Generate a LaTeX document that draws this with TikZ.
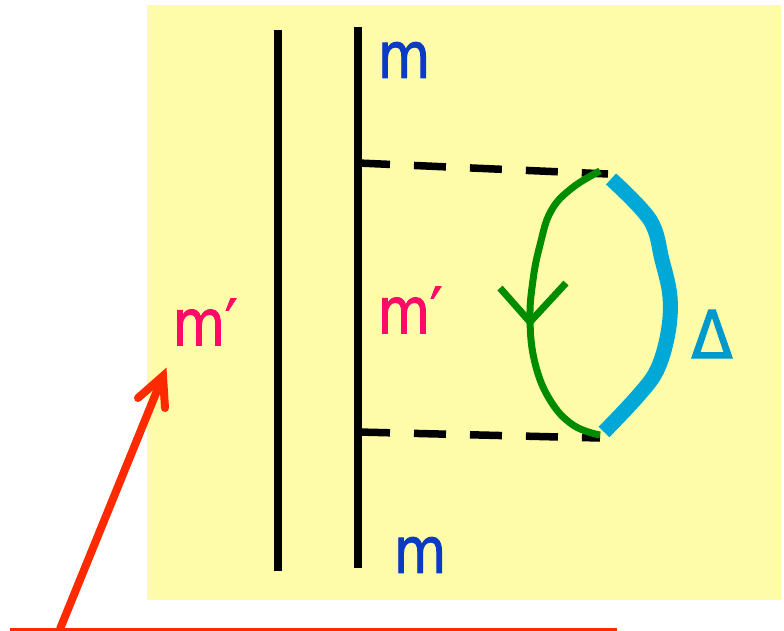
\documentclass[tikz,border=0pt]{standalone}
\usepackage{fontspec}
\setmainfont{DejaVu Sans}
\newfontfamily\handfont[RawFeature={embolden=1.6}]{DejaVu Sans}
\usetikzlibrary{positioning,calc,arrows.meta}
\definecolor{padyellow}{HTML}{FFFCA9}
\definecolor{massblue}{HTML}{0A3BC4}
\definecolor{masspink}{HTML}{FF0A66}
\definecolor{loopgreen}{HTML}{008C00}
\definecolor{gapcyan}{HTML}{00A8D8}
\definecolor{gaplabel}{HTML}{0099CC}
\definecolor{markred}{HTML}{FF2A00}

\begin{document}
\begin{tikzpicture}[
  x=1pt, y=-1pt,
  pad/.style={rectangle, fill=padyellow, inner sep=0pt, minimum width=634pt, minimum height=595pt},
  mlab/.style={font=\handfont\fontsize{64}{64}\selectfont, inner sep=0pt, xscale=0.84, text=massblue},
  plab/.style={mlab, text=masspink},
  dlab/.style={font=\handfont\fontsize{66}{66}\selectfont, inner sep=0pt, xscale=0.92, text=gaplabel},
  quark/.style={line width=8pt, draw=black},
  gluon/.style={line width=7.5pt, draw=black, dash pattern=on 32pt off 24pt},
  loopq/.style={line width=7pt, draw=loopgreen},
  gapq/.style={line width=15pt, draw=gapcyan},
  marker/.style={line width=8pt, draw=markred, line cap=round, line join=miter}
]
\useasboundingbox (0,0) rectangle (784,631);

\node[pad] (bg) at (464,302.5) {};

% quark lines
\coordinate (lt) at (278,30);
\coordinate (lb) at (278,571);
\coordinate (rt) at (358,27);
\coordinate (rb) at (358,568);
\draw[quark] (lt) -- (lb);
\draw[quark] (rt) -- (rb);

% exchanged gluons
\coordinate (g1) at (358,163);
\coordinate (g2) at (358,432);
\coordinate (h1) at (608,174);
\coordinate (h2) at (600,438);
\draw[gluon] (g1) -- (h1);
\draw[gluon] (g2) -- (h2);

% heavy side of the loop
\draw[gapq] plot[smooth, tension=0.6] coordinates {(611,179) (650,220) (662,260) (670,297) (668,333) (657,370) (637,397) (604,432)};

% light side of the loop
\draw[loopq] plot[smooth, tension=0.7] coordinates {(600,171) (572,188) (551,211) (540,245) (533,280) (530,320) (535,363) (550,400) (573,425) (600,435)};
\coordinate (tip) at (530,322);
\coordinate (wl) at (500,288);
\coordinate (wr) at (566,283);
\draw[loopq] (wl) -- (tip) -- (wr);

\node[mlab] (mtop) at (404,60) {m};
\node[mlab] (mbot) at (420,555) {m};
\node[plab] (mpl) at (205,322) {m′};
\node[plab] (mpr) at (410,310) {m′};
\node[dlab] (delta) at (712,334) {Δ};

% pointer from the base line
\coordinate (b0) at (10,629.5);
\coordinate (b1) at (617,629.5);
\coordinate (a0) at (60,629);
\coordinate (a1) at (163,376);
\draw[markred, line width=3pt] (b0) -- (b1);
\draw[marker, line cap=butt] (a0) -- (a1);
\coordinate (hl) at (138,398);
\coordinate (hr) at (165,408);
\draw[marker] (hl) -- (a1) -- (hr);
\end{tikzpicture}
\end{document}
